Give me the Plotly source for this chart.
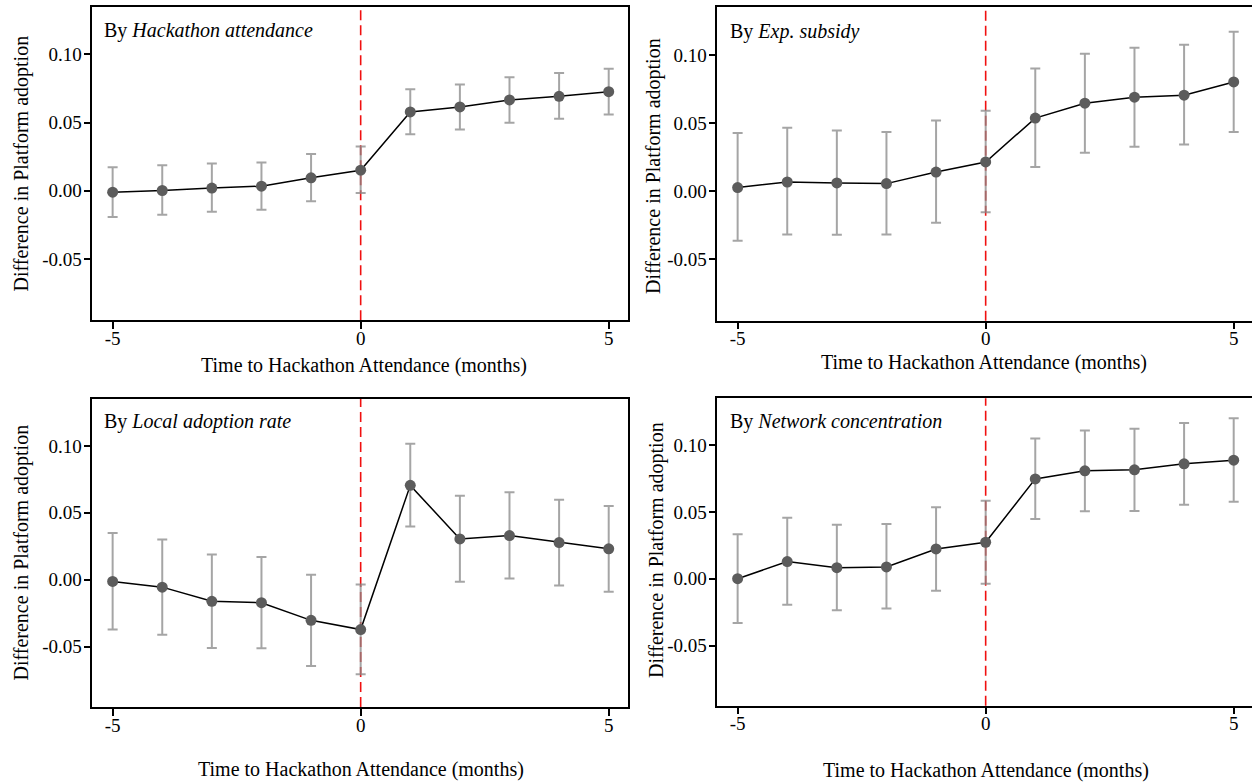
import plotly.graph_objects as go

W, H = 1252, 783

# ---------------- data ----------------
months = [-5, -4, -3, -2, -1, 0, 1, 2, 3, 4, 5]

panel_labels = ["Hackathon attendance", "Exp. subsidy",
                "Local adoption rate", "Network concentration"]

est_hackathon = [-0.001, 0.0002, 0.002, 0.0034, 0.0095, 0.0151, 0.0578, 0.0615, 0.0666, 0.0693, 0.0727]
lo_hackathon = [-0.0193, -0.0176, -0.0154, -0.0139, -0.0076, -0.0017, 0.0415, 0.0449, 0.0498, 0.0529, 0.0559]
hi_hackathon = [0.0173, 0.0188, 0.0200, 0.0207, 0.0270, 0.0324, 0.0744, 0.0780, 0.0832, 0.0863, 0.0895]

est_subsidy = [0.0027, 0.0068, 0.0061, 0.0056, 0.0141, 0.0215, 0.0537, 0.0646, 0.0690, 0.0705, 0.0802]
lo_subsidy = [-0.0363, -0.0317, -0.0320, -0.0317, -0.0232, -0.0154, 0.0178, 0.0283, 0.0327, 0.0344, 0.0434]
hi_subsidy = [0.0427, 0.0466, 0.0446, 0.0434, 0.0520, 0.0590, 0.0900, 0.1010, 0.1054, 0.1076, 0.1170]

est_local = [-0.0012, -0.0055, -0.0161, -0.0171, -0.0303, -0.0372, 0.0705, 0.0305, 0.0330, 0.0278, 0.0231]
lo_local = [-0.0372, -0.0410, -0.0509, -0.0511, -0.0643, -0.0705, 0.0397, -0.0015, 0.0010, -0.0042, -0.0089]
hi_local = [0.0350, 0.0300, 0.0189, 0.0171, 0.0037, -0.0035, 0.1015, 0.0628, 0.0653, 0.0598, 0.0551]

est_network = [0.0000, 0.0128, 0.0083, 0.0088, 0.0223, 0.0273, 0.0747, 0.0807, 0.0815, 0.0860, 0.0887]
lo_network = [-0.0331, -0.0195, -0.0236, -0.0223, -0.0090, -0.0038, 0.0446, 0.0504, 0.0506, 0.0554, 0.0576]
hi_network = [0.0333, 0.0456, 0.0404, 0.0409, 0.0534, 0.0584, 0.1050, 0.1110, 0.1123, 0.1165, 0.1200]

y_tickvals = [-0.05, 0.0, 0.05, 0.10]
y_ticktext = ["-0.05", "0.00", "0.05", "0.10"]
x_tickvals = [-5, 0, 5]
x_ticktext = ["-5", "0", "5"]

y_title = "Difference in Platform adoption"
x_title = "Time to Hackathon Attendance (months)"

# ---------------- layout helpers ----------------
FONT = "Liberation Serif"

def px_x(p):
    return p / W

def px_y(p):
    return 1 - p / H

# panel frames in pixels
panels = [
    dict(l=92.3, r=628.3, t=6.7, b=320.3, xr=[-5.41, 5.395], mirror_y=True,
         ytx=21, yty=163.5, xtx=364, xty=365.5, lx=101.5, ly=30.5),
    dict(l=717.3, r=W, t=7.3, b=320.7, xr=[-5.41, 5.369], mirror_y=False,
         ytx=654, yty=166, xtx=984, xty=362.5, lx=728, ly=32),
    dict(l=92.3, r=628.3, t=399, b=707, xr=[-5.41, 5.395], mirror_y=True,
         ytx=21, yty=552.5, xtx=360.5, xty=769.5, lx=101.5, ly=421.5),
    dict(l=717.3, r=W, t=398.3, b=705.7, xr=[-5.41, 5.369], mirror_y=False,
         ytx=656, yty=550, xtx=986, xty=770, lx=728, ly=421.5),
]

series = [
    (est_hackathon, lo_hackathon, hi_hackathon),
    (est_subsidy, lo_subsidy, hi_subsidy),
    (est_local, lo_local, hi_local),
    (est_network, lo_network, hi_network),
]

fig = go.Figure()
layout = dict(
    width=W, height=H,
    margin=dict(l=0, r=0, t=0, b=0),
    paper_bgcolor="white", plot_bgcolor="white",
    showlegend=False,
    font=dict(family=FONT, color="black", size=19),
    shapes=[], annotations=[],
)

for i, (p, (est, lo, hi)) in enumerate(zip(panels, series)):
    n = i + 1
    xa = "x" if n == 1 else f"x{n}"
    ya = "y" if n == 1 else f"y{n}"
    fig.add_trace(go.Scatter(
        x=months, y=est, xaxis=xa, yaxis=ya,
        mode="lines+markers",
        line=dict(color="black", width=1.5),
        marker=dict(size=11, color="#5c5c5c"),
        error_y=dict(type="data", symmetric=False,
                     array=[h - e for h, e in zip(hi, est)],
                     arrayminus=[e - l for e, l in zip(est, lo)],
                     color="rgba(135,135,135,0.75)", thickness=2, width=5),
        hoverinfo="skip",
    ))
    axis_common = dict(showline=True, linecolor="black", linewidth=1.5,
                       ticks="outside", ticklen=7, tickwidth=1.5, tickcolor="black",
                       showgrid=False, zeroline=False,
                       tickfont=dict(family=FONT, size=19, color="black"))
    layout[f"xaxis{'' if n == 1 else n}"] = dict(
        domain=[px_x(p["l"]), min(1.0, px_x(p["r"]))],
        anchor=ya, range=p["xr"], mirror=True, ticklabelstandoff=-7,
        tickmode="array", tickvals=x_tickvals, ticktext=x_ticktext,
        **axis_common)
    layout[f"yaxis{'' if n == 1 else n}"] = dict(
        domain=[px_y(p["b"]), px_y(p["t"])],
        anchor=xa, range=[-0.095, 0.135], mirror=p["mirror_y"], ticklabelstandoff=-2,
        tickmode="array", tickvals=y_tickvals, ticktext=y_ticktext,
        **axis_common)
    layout["shapes"].append(dict(
        type="line", xref=xa, yref=f"{ya} domain", x0=0, x1=0, y0=0, y1=1,
        line=dict(color="#f01010", width=1.6, dash="10px,5px"), layer="below"))
    layout["annotations"].append(dict(
        text=f"By <i>{panel_labels[i]}</i>", xref="paper", yref="paper",
        x=px_x(p["lx"]), y=px_y(p["ly"]), xanchor="left", yanchor="middle",
        showarrow=False, font=dict(family=FONT, size=20, color="black")))
    layout["annotations"].append(dict(
        text=y_title, xref="paper", yref="paper", textangle=-90,
        x=px_x(p["ytx"]), y=px_y(p["yty"]), xanchor="center", yanchor="middle",
        showarrow=False, font=dict(family=FONT, size=20, color="black")))
    layout["annotations"].append(dict(
        text=x_title, xref="paper", yref="paper",
        x=px_x(p["xtx"]), y=px_y(p["xty"]), xanchor="center", yanchor="middle",
        showarrow=False, font=dict(family=FONT, size=20, color="black")))

fig.update_layout(**layout)
fig.write_html("out.html", config={"displayModeBar": False},
               post_script="document.body.style.margin='0';document.body.style.overflow='hidden';")
